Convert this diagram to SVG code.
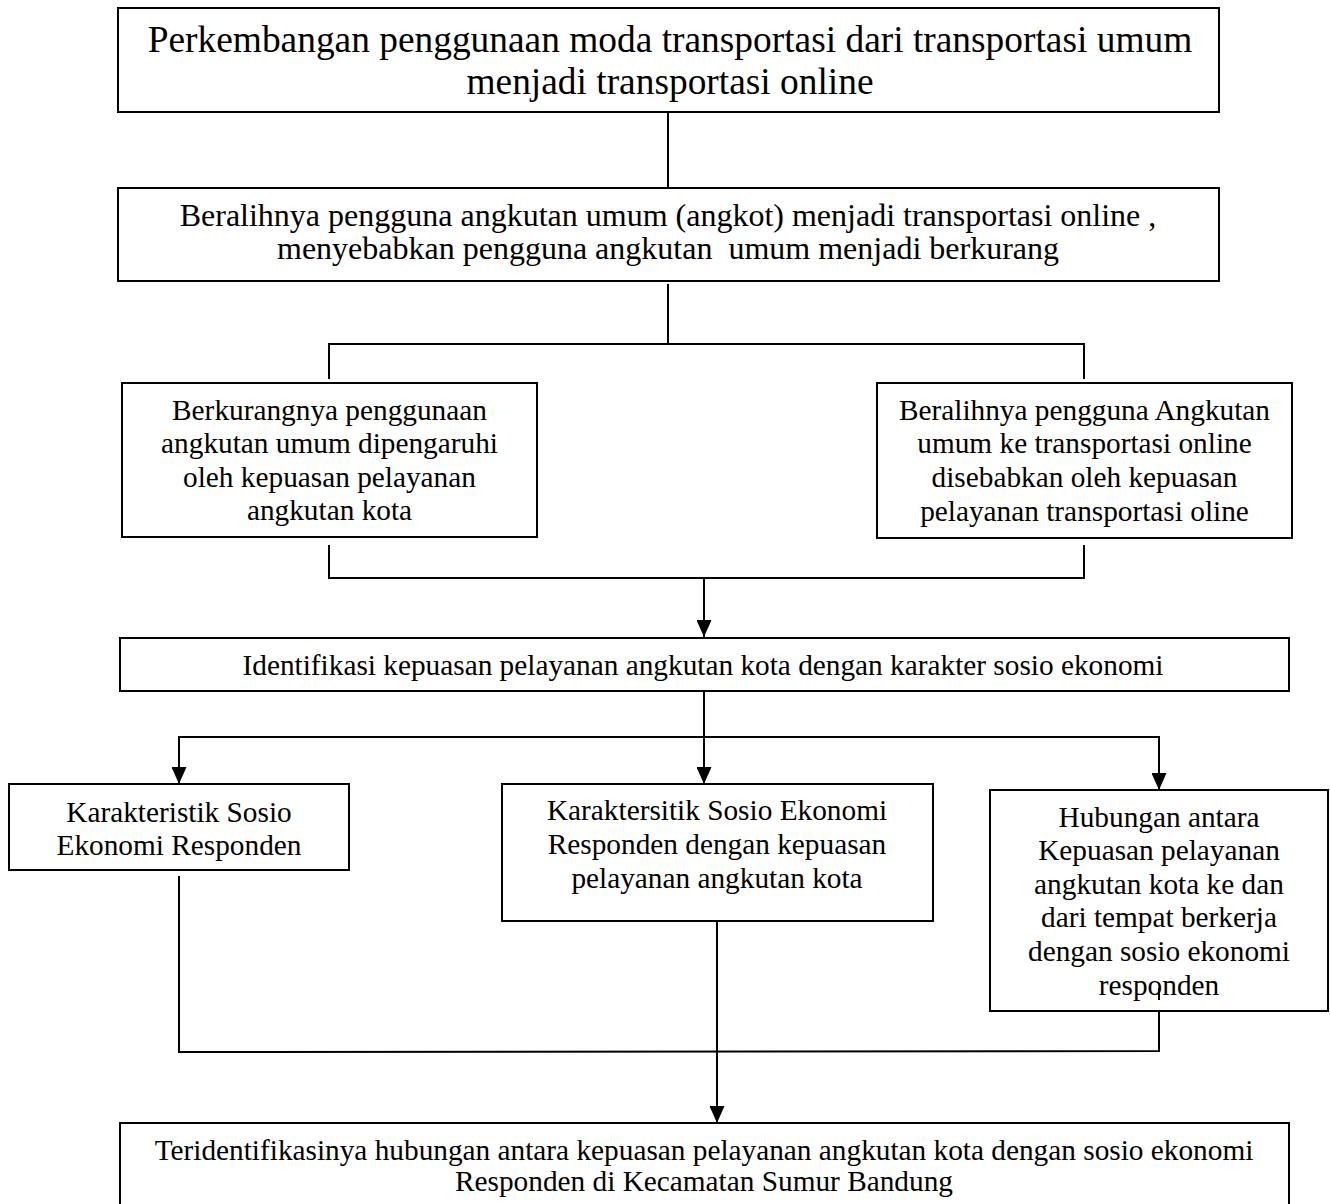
<svg xmlns="http://www.w3.org/2000/svg" width="1330" height="1204" viewBox="0 0 1330 1204">
<style>
  .box { fill: #ffffff; stroke: #000000; stroke-width: 2; }
  .t { font-family: "Liberation Serif", "Times New Roman", serif; fill: #000000; text-anchor: middle; }
  .s38 { font-size: 37.4px; }
  .s32 { font-size: 32px; }
  .s29 { font-size: 29.3px; }
  .c { fill: none; stroke: #000000; stroke-width: 2; }
</style>
<defs>
  <marker id="arr" viewBox="0 0 17 15" refX="17" refY="7.5" markerUnits="userSpaceOnUse" markerWidth="17" markerHeight="15" orient="auto">
    <path d="M0,0 L17,7.5 L0,15 z" fill="#000000"/>
  </marker>
</defs>
<rect width="1330" height="1204" fill="#ffffff"/>

<g id="connectors">
  <line class="c" x1="668" y1="112" x2="668" y2="188"/>
  <polyline class="c" points="668,284 668,344"/>
  <polyline class="c" points="329,379 329,344 1084,344 1084,379"/>
  <polyline class="c" points="329,545 329,578 1084,578 1084,545"/>
  <line class="c" x1="704" y1="578" x2="704" y2="637" marker-end="url(#arr)"/>
  <line class="c" x1="704" y1="691" x2="704" y2="784" marker-end="url(#arr)"/>
  <polyline class="c" points="179,784 179,737 1159,737 1159,790" marker-end="url(#arr)"/>
  <line class="c" x1="179" y1="737" x2="179" y2="784" marker-end="url(#arr)"/>
  <polyline class="c" points="179,876 179,1052 1159,1051 1159,988"/>
  <line class="c" x1="717" y1="921" x2="717" y2="1123" marker-end="url(#arr)"/>
</g>

<g id="node1">
  <rect class="box" x="118" y="8" width="1101" height="104"/>
  <text class="t s38" x="670" y="52">Perkembangan penggunaan moda transportasi dari transportasi umum</text>
  <text class="t s38" x="670" y="94">menjadi transportasi online</text>
</g>

<g id="node2">
  <rect class="box" x="118" y="188" width="1101" height="93"/>
  <text class="t s32" x="668" y="226">Beralihnya pengguna angkutan umum (angkot) menjadi transportasi online ,</text>
  <text class="t s32" x="668" y="259" xml:space="preserve">menyebabkan pengguna angkutan  umum menjadi berkurang</text>
</g>

<g id="node3">
  <rect class="box" x="122" y="383" width="415" height="154"/>
  <text class="t s29" x="329.5" y="420">Berkurangnya penggunaan</text>
  <text class="t s29" x="329.5" y="453">angkutan umum dipengaruhi</text>
  <text class="t s29" x="329.5" y="487">oleh kepuasan pelayanan</text>
  <text class="t s29" x="329.5" y="520">angkutan kota</text>
</g>

<g id="node4">
  <rect class="box" x="877" y="383" width="415" height="155"/>
  <text class="t s29" x="1084.5" y="420">Beralihnya pengguna Angkutan</text>
  <text class="t s29" x="1084.5" y="453">umum ke transportasi online</text>
  <text class="t s29" x="1084.5" y="487">disebabkan oleh kepuasan</text>
  <text class="t s29" x="1084.5" y="521">pelayanan transportasi oline</text>
</g>

<g id="node5">
  <rect class="box" x="120" y="638" width="1169" height="53"/>
  <text class="t s29" x="703" y="675">Identifikasi kepuasan pelayanan angkutan kota dengan karakter sosio ekonomi</text>
</g>

<g id="node6">
  <rect class="box" x="9" y="784" width="340" height="86"/>
  <text class="t s29" x="179" y="822">Karakteristik Sosio</text>
  <text class="t s29" x="179" y="855">Ekonomi Responden</text>
</g>

<g id="node7">
  <rect class="box" x="502" y="784" width="431" height="137"/>
  <text class="t s29" x="717" y="820">Karaktersitik Sosio Ekonomi</text>
  <text class="t s29" x="717" y="854">Responden dengan kepuasan</text>
  <text class="t s29" x="717" y="888">pelayanan angkutan kota</text>
</g>

<g id="node8">
  <rect class="box" x="990" y="790" width="338" height="221"/>
  <text class="t s29" x="1159" y="827">Hubungan antara</text>
  <text class="t s29" x="1159" y="860">Kepuasan pelayanan</text>
  <text class="t s29" x="1159" y="894">angkutan kota ke dan</text>
  <text class="t s29" x="1159" y="927">dari tempat berkerja</text>
  <text class="t s29" x="1159" y="961">dengan sosio ekonomi</text>
  <text class="t s29" x="1159" y="995">responden</text>
</g>

<line class="c" x1="1159" y1="988" x2="1159" y2="1000"/>

<g id="node9">
  <rect class="box" x="120" y="1123" width="1169" height="95"/>
  <text class="t s29" x="704" y="1160">Teridentifikasinya hubungan antara kepuasan pelayanan angkutan kota dengan sosio ekonomi</text>
  <text class="t s29" x="704" y="1191">Responden di Kecamatan Sumur Bandung</text>
</g>
</svg>
